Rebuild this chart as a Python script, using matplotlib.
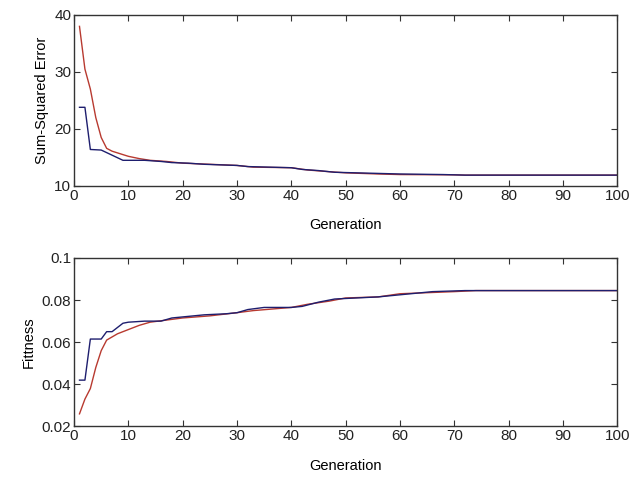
import matplotlib.pyplot as plt

plt.rcParams['font.family'] = ['Liberation Sans', 'DejaVu Sans']

# top panel: sum-squared error
sse_best_gen = [1, 2, 3, 5, 9, 13, 16, 18, 21, 24, 30, 32, 40, 42, 45, 48, 52, 56, 60, 68, 72, 100]
sse_best = [23.8, 23.8, 16.4, 16.3, 14.5, 14.5, 14.3, 14.1, 14.0, 13.8, 13.6, 13.4, 13.2,
            12.9, 12.7, 12.4, 12.3, 12.2, 12.1, 12.0, 11.9, 11.9]
sse_mean_gen = [1, 2, 3, 4, 5, 6, 7, 8, 10, 12, 14, 17, 20, 25, 30, 33, 40, 43, 47, 50,
                56, 60, 70, 72, 100]
sse_mean = [38.0, 30.5, 27.0, 22.0, 18.5, 16.6, 16.1, 15.8, 15.2, 14.8, 14.5, 14.3, 14.0,
            13.8, 13.6, 13.3, 13.2, 12.8, 12.5, 12.3, 12.1, 12.0, 11.95, 11.9, 11.9]

# bottom panel: fitness
fit_best_gen = [1, 2, 3, 5, 6, 7, 9, 10, 13, 16, 18, 20, 24, 28, 30, 32, 35, 40, 42, 45,
                48, 52, 56, 58, 62, 66, 72, 100]
fit_best = [0.042, 0.042, 0.0615, 0.0615, 0.065, 0.065, 0.069, 0.0695, 0.070, 0.070,
            0.0715, 0.072, 0.073, 0.0735, 0.074, 0.0755, 0.0765, 0.0765, 0.077, 0.079,
            0.0805, 0.081, 0.0815, 0.082, 0.083, 0.084, 0.0845, 0.0845]
fit_mean_gen = [1, 2, 3, 4, 5, 6, 7, 8, 10, 12, 14, 17, 20, 25, 30, 33, 40, 43, 47, 50,
                56, 60, 65, 70, 74, 100]
fit_mean = [0.026, 0.033, 0.038, 0.048, 0.056, 0.061, 0.0625, 0.064, 0.066, 0.068, 0.0695,
            0.0705, 0.0715, 0.0725, 0.074, 0.075, 0.0765, 0.078, 0.0795, 0.081, 0.0815,
            0.083, 0.0835, 0.084, 0.0845, 0.0845]

blue = '#1e1e6e'
red = '#b83a30'

fig = plt.figure(figsize=(6.33, 4.83), dpi=100)
ax1 = fig.add_axes([0.117, 0.615, 0.858, 0.354])
ax2 = fig.add_axes([0.117, 0.117, 0.858, 0.349])

ax1.plot(sse_mean_gen, sse_mean, color=red, lw=1)
ax1.plot(sse_best_gen, sse_best, color=blue, lw=1)
ax1.set_ylim(10, 40)
ax1.set_yticks([10, 20, 30, 40])
ax1.set_ylabel('Sum-Squared Error', fontsize=10.5, labelpad=4)

ax2.plot(fit_mean_gen, fit_mean, color=red, lw=1)
ax2.plot(fit_best_gen, fit_best, color=blue, lw=1)
ax2.set_ylim(0.02, 0.1)
ax2.set_yticks([0.02, 0.04, 0.06, 0.08, 0.1])
ax2.set_yticklabels(['0.02', '0.04', '0.06', '0.08', '0.1'])
ax2.set_ylabel('Fittness', fontsize=10.5, labelpad=4)

for ax in (ax1, ax2):
    ax.set_xlim(0, 100)
    ax.set_xticks(range(0, 101, 10))
    ax.set_xlabel('Generation', fontsize=10.5, labelpad=11)
    ax.tick_params(direction='in', top=True, right=True, length=4, labelsize=11,
                   color='#333333', labelcolor='#222222', pad=2)
    for s in ax.spines.values():
        s.set_color('#333333')
        s.set_linewidth(1.0)

plt.savefig('out.png')
